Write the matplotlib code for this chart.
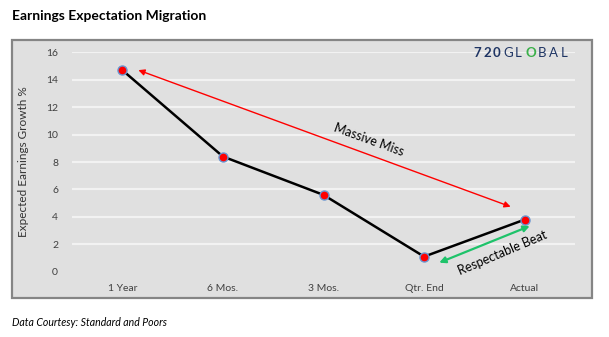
import matplotlib.pyplot as plt
from matplotlib.patches import Rectangle

# data
periods = ["1 Year", "6 Mos.", "3 Mos.", "Qtr. End", "Actual"]
growth = [14.7, 8.4, 5.6, 1.1, 3.8]
y_ticks = [0, 2, 4, 6, 8, 10, 12, 14, 16]

W, H = 609, 337
fig = plt.figure(figsize=(W / 100, H / 100), dpi=100)
plt.rcParams['font.family'] = ['Lato', 'DejaVu Sans']

# grey chart box with border
box = Rectangle((12 / W, 1 - 298 / H), 580 / W, 258 / H, transform=fig.transFigure,
                facecolor='#e0e0e0', edgecolor='#858585', linewidth=1.6, zorder=-1)
fig.patches.append(box)

ax = fig.add_axes([72 / W, 1 - 271.7 / H, 503 / W, 219.4 / H])
ax.set_zorder(2)
ax.patch.set_alpha(0)
for s in ax.spines.values():
    s.set_visible(False)

x = list(range(len(periods)))
ax.set_xlim(-0.5, len(periods) - 0.5)
ax.set_ylim(0, 16)
ax.set_yticks(y_ticks)
ax.set_xticks(x)
ax.set_xticklabels(periods)
ax.tick_params(length=0, labelsize=7.5, colors='#404040')
ax.tick_params(axis='y', pad=10)
ax.tick_params(axis='x', pad=9)
for yv in y_ticks[1:]:
    ax.axhline(yv, color='#f2f2f2', linewidth=1.6, zorder=1)

ax.plot(x, growth, color='black', linewidth=1.8, zorder=3,
        marker='o', markersize=6.5, markerfacecolor='#ff0000',
        markeredgecolor='#6a95d0', markeredgewidth=1, clip_on=False)

ax.set_ylabel("Expected Earnings Growth %", fontsize=8.5, color='#333333', labelpad=12)

# annotation arrows
ax.annotate("", xy=(0.16, 14.7), xytext=(3.86, 4.74),
            arrowprops=dict(arrowstyle='<|-|>', color='#ff0000', lw=1.0,
                            mutation_scale=9, shrinkA=0, shrinkB=0))
ax.annotate("", xy=(3.15, 0.66), xytext=(4.05, 3.33),
            arrowprops=dict(arrowstyle='<|-|>', color='#1ec36a', lw=1.6,
                            mutation_scale=9, shrinkA=0, shrinkB=0))
ax.text(2.45, 9.6, "Massive Miss", rotation=-20, fontsize=9,
        ha='center', va='center', rotation_mode='anchor')
ax.text(3.78, 1.35, "Respectable Beat", rotation=23, fontsize=9,
        ha='center', va='center', rotation_mode='anchor')

# logo, one glyph at a time for the wide letter spacing
logo_x = [473, 483, 493, 503, 515, 526, 538, 549, 561]
for i, (ch, lx) in enumerate(zip("720GLOBAL", logo_x)):
    fig.text(lx / W, 1 - 53 / H, ch, fontsize=9.5,
             color='#3bb04a' if i == 5 else '#1f3564',
             va='center', ha='left', fontweight='bold' if i < 3 or i == 5 else 'normal')

fig.text(12 / W, 1 - 16 / H, "Earnings Expectation Migration", fontsize=10,
         fontweight='bold', va='center', ha='left')
fig.text(12 / W, 1 - 322 / H, "Data Courtesy: Standard and Poors", fontsize=7.6,
         style='italic', va='center', ha='left')

fig.savefig("out.png", dpi=100)
